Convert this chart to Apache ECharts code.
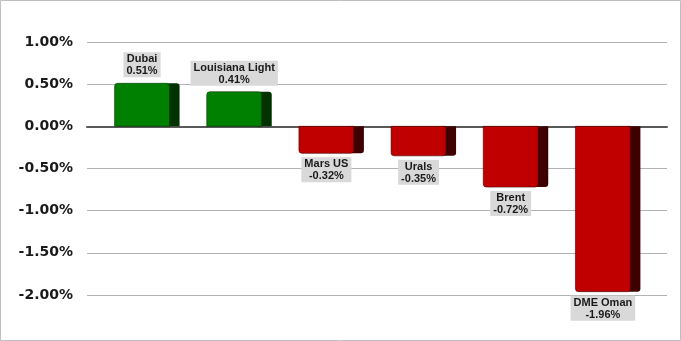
<!DOCTYPE html>
<html>
<head>
<meta charset="utf-8">
<script src="https://cdn.jsdelivr.net/npm/echarts@6/dist/echarts.min.js"></script>
<style>
html,body{margin:0;padding:0;background:#fff;}
#chart{width:681px;height:341px;}
</style>
</head>
<body>
<div id="chart"></div>
<script>
const categories = ['Dubai', 'Louisiana Light', 'Mars US', 'Urals', 'Brent', 'DME Oman'];
const values = [0.51, 0.41, -0.32, -0.35, -0.72, -1.96];
const yMin = -2, yMax = 1, yStep = 0.5;

const chart = echarts.init(document.getElementById('chart'), null, {renderer: 'canvas'});

function renderBar(params, api) {
  const idx = api.value(0), v = api.value(1);
  const top = api.coord([idx, v]);
  const base = api.coord([idx, 0]);
  const band = api.size([1, 0])[0];
  const w = band * 0.705;
  const sideW = w * 0.155;
  const frontW = w - sideW;
  const x0 = base[0] - w / 2;
  const y1 = Math.min(top[1], base[1]);
  const h = Math.abs(top[1] - base[1]);
  const pos = v >= 0;
  const front = pos ? '#008000' : '#C00000';
  const side = pos ? '#003300' : '#3F0000';
  const r = pos ? [3, 3, 0, 0] : [0, 0, 3, 3];
  return {
    type: 'group',
    children: [
      {type: 'rect', shape: {x: x0 + frontW - 4, y: y1, width: sideW + 4, height: h, r: r}, style: {fill: side}},
      {type: 'rect', shape: {x: x0, y: y1, width: frontW, height: h, r: r}, style: {fill: front, stroke: side, lineWidth: 0.6}},
      {type: 'text', x: x0 + frontW / 2, y: pos ? y1 - 6 : y1 + h + 4,
       style: {
         text: categories[idx] + '\n' + v.toFixed(2) + '%',
         align: 'center', verticalAlign: pos ? 'bottom' : 'top',
         fill: '#1a1a1a', font: 'bold 11px "Liberation Sans", Arial, sans-serif',
         lineHeight: 12, backgroundColor: '#D9D9D9', padding: [1, 3, 0, 3]
       }}
    ]
  };
}

chart.setOption({
  animation: false,
  graphic: [{type: 'rect', z: 100, shape: {x: 0.5, y: 0.5, width: 680, height: 340}, style: {fill: 'none', stroke: '#BFBFBF', lineWidth: 1}}],
  grid: [
    {left: 87, right: 14, top: 42, bottom: 46},
    {left: 101, right: 27, top: 42, bottom: 46}
  ],
  xAxis: [
    {gridIndex: 0, type: 'value', min: 0, max: 1, axisLabel: {show: false}, axisTick: {show: false}, splitLine: {show: false},
     axisLine: {show: true, onZero: true, lineStyle: {color: '#595959', width: 2}}},
    {gridIndex: 1, type: 'category', data: categories, axisLabel: {show: false}, axisTick: {show: false}, axisLine: {show: false}}
  ],
  yAxis: [
    {gridIndex: 0, type: 'value', min: yMin, max: yMax, interval: yStep,
     axisLine: {show: false}, axisTick: {show: false},
     axisLabel: {margin: 14, formatter: v => v.toFixed(2) + '%', color: '#1a1a1a', fontFamily: 'DejaVu Sans', fontWeight: 'bold', fontSize: 14},
     splitLine: {lineStyle: {color: '#B3B3B3', width: 1}}},
    {gridIndex: 1, type: 'value', min: yMin, max: yMax, interval: yStep, show: false, splitLine: {show: false}}
  ],
  series: [{
    type: 'custom', xAxisIndex: 1, yAxisIndex: 1,
    renderItem: renderBar,
    encode: {x: 0, y: 1},
    data: values.map((v, i) => [i, v]),
    z: 10
  }]
});
</script>
</body>
</html>
